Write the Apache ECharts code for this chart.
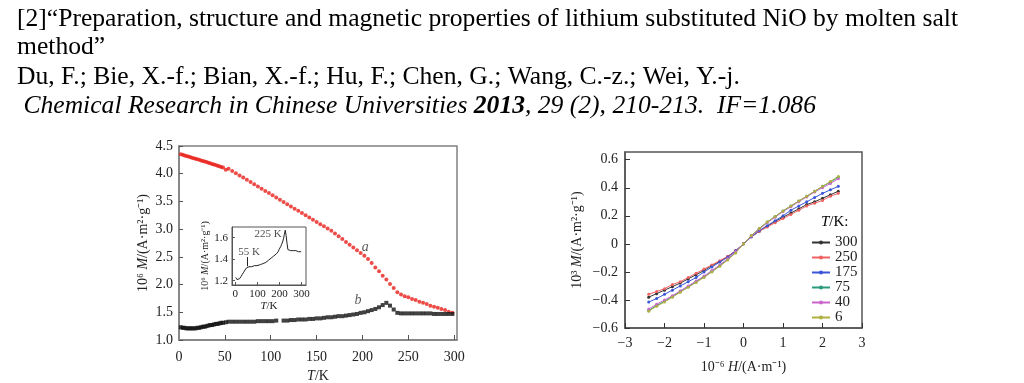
<!DOCTYPE html>
<html><head><meta charset="utf-8">
<script src="https://cdn.jsdelivr.net/npm/echarts@6/dist/echarts.min.js"></script>
<style>html,body{margin:0;padding:0;background:#fff}#c{width:1024px;height:383px}</style>
</head><body><div id="c"></div>
<script>
// ---- header text ----
const headerLines = [
  '[2]“Preparation, structure and magnetic properties of lithium substituted NiO by molten salt',
  'method”',
  'Du, F.; Bie, X.-f.; Bian, X.-f.; Hu, F.; Chen, G.; Wang, C.-z.; Wei, Y.-j.'
];
const journalPre = ' Chemical Research in Chinese Universities ';
const journalYear = '2013';
const journalPost = ', 29 (2), 210-213.  IF=1.086';

// ---- left chart: M vs T ----
const tempTicks = [0, 50, 100, 150, 200, 250, 300];
const mTicks = [1.0, 1.5, 2.0, 2.5, 3.0, 3.5, 4.0, 4.5];
const tDense = [2,4,6,8,10,12,14,16,18,20,22,24,26,28,30,32,34,36,38,40,42,44,46,48];
const aDense = [4.35,4.34,4.33,4.32,4.31,4.30,4.29,4.28,4.27,4.26,4.25,4.24,4.23,4.22,4.21,4.20,4.19,4.175,4.165,4.155,4.145,4.135,4.12,4.11];
const bDense = [1.23,1.22,1.22,1.21,1.21,1.21,1.21,1.21,1.21,1.22,1.22,1.23,1.24,1.24,1.25,1.26,1.27,1.27,1.28,1.29,1.29,1.30,1.31,1.31];
const tSparse = [51,54,58,62,66,70,74,78,82,86,90,94,98,102,106,110,114,118,122,126,130,134,138,142,146,150,154,158,162,166,170,174,178,182,186,190,194,198,202,206,210,214,218,222,226,230,234,238,242,246,250,254,258,262,266,270,274,278,282,286,290,294,298];
const aSparse = [4.07,4.09,4.05,4.01,3.97,3.93,3.89,3.85,3.81,3.77,3.73,3.69,3.65,3.61,3.57,3.53,3.49,3.45,3.41,3.37,3.33,3.29,3.25,3.21,3.17,3.13,3.09,3.05,3.01,2.97,2.92,2.87,2.82,2.77,2.72,2.67,2.62,2.57,2.52,2.46,2.39,2.31,2.24,2.16,2.09,2.01,1.94,1.86,1.82,1.79,1.77,1.74,1.72,1.69,1.67,1.65,1.62,1.60,1.58,1.56,1.54,1.51,1.49];
const bSparse = [1.32,1.33,1.33,1.33,1.33,1.33,1.33,1.33,1.33,1.34,1.34,1.34,1.34,1.34,1.35,null,1.35,1.35,1.36,1.36,1.37,1.37,1.37,1.38,1.38,1.39,1.39,1.40,1.41,1.41,1.42,1.43,1.43,1.44,1.45,1.46,1.47,1.49,1.50,1.52,1.54,1.56,1.59,1.63,1.67,1.62,1.55,1.49,1.48,1.48,1.48,1.48,1.48,1.48,1.48,1.48,1.48,1.47,1.47,1.47,1.47,1.47,1.47];

// ---- inset ----
const insetTempTicks = [0, 100, 200, 300];
const insetMTicks = [1.2, 1.4, 1.6];

// ---- right chart: M vs H ----
const hTicks = [-3, -2, -1, 0, 1, 2, 3];
const mhTicks = [-0.6, -0.4, -0.2, 0, 0.2, 0.4, 0.6];
const fieldH = [-2.4,-2.2,-2.0,-1.8,-1.6,-1.4,-1.2,-1.0,-0.8,-0.6,-0.4,-0.2,0,0.2,0.4,0.6,0.8,1.0,1.2,1.4,1.6,1.8,2.0,2.2,2.4];
const curveNames = ['300','250','175','75','40','6'];
const m300 = [-0.38,-0.355,-0.33,-0.305,-0.28,-0.25,-0.22,-0.19,-0.155,-0.125,-0.09,-0.05,0.0,0.05,0.09,0.125,0.16,0.19,0.22,0.25,0.28,0.30,0.325,0.35,0.375];
const m250 = [-0.36,-0.34,-0.32,-0.29,-0.27,-0.24,-0.21,-0.18,-0.15,-0.12,-0.09,-0.05,0.0,0.05,0.09,0.12,0.15,0.18,0.21,0.24,0.27,0.29,0.31,0.34,0.36];
const m175 = [-0.415,-0.39,-0.36,-0.33,-0.30,-0.27,-0.24,-0.20,-0.165,-0.13,-0.095,-0.05,0.0,0.05,0.095,0.13,0.165,0.20,0.24,0.27,0.30,0.33,0.36,0.385,0.41];
const m75 = [-0.475,-0.44,-0.41,-0.375,-0.34,-0.305,-0.27,-0.235,-0.195,-0.155,-0.11,-0.06,0.0,0.06,0.11,0.155,0.195,0.235,0.27,0.305,0.34,0.375,0.41,0.44,0.475];
const m40 = [-0.465,-0.43,-0.40,-0.37,-0.335,-0.30,-0.265,-0.23,-0.19,-0.15,-0.105,-0.055,0.0,0.055,0.105,0.15,0.19,0.23,0.265,0.30,0.335,0.37,0.40,0.43,0.465];
const m6 = [-0.48,-0.445,-0.415,-0.38,-0.345,-0.31,-0.275,-0.24,-0.2,-0.16,-0.115,-0.065,0.0,0.06,0.11,0.155,0.195,0.235,0.27,0.305,0.34,0.375,0.41,0.445,0.48];
const curveValues = [m300, m250, m175, m75, m40, m6];
const curveColors = ['#333333', '#f06262', '#3a55d8', '#2a9a7c', '#cc66cc', '#b0b040'];

// ---- build ----
const FF = '"Liberation Serif", "Times New Roman", serif';
const HF = 25.6;
const zip = (xs, ys) => xs.map((x, i) => [x, ys[i]]).filter(p => p[1] !== null);
const minus = s => String(s).replace('-', '−');
const richName = (size) => ({
  n: { fontFamily: FF, fontSize: size, color: '#222' },
  i: { fontFamily: FF, fontSize: size, color: '#222', fontStyle: 'italic' }
});

const chart = echarts.init(document.getElementById('c'), null, { renderer: 'canvas' });

const option = {
  animation: false,
  backgroundColor: '#fff',
  textStyle: { fontFamily: FF },
  graphic: [
    { type: 'text', left: 17, top: 6, style: { text: headerLines[0], font: HF + 'px ' + FF, fill: '#000' } },
    { type: 'text', left: 17, top: 34, style: { text: headerLines[1], font: HF + 'px ' + FF, fill: '#000' } },
    { type: 'text', left: 17, top: 64, style: { text: headerLines[2], font: HF + 'px ' + FF, fill: '#000' } },
    { type: 'text', left: 17, top: 93, style: {
        text: '{i|' + journalPre + '}{b|' + journalYear + '}{i|' + journalPost + '}',
        rich: {
          i: { fontFamily: FF, fontSize: HF, fontStyle: 'italic', color: '#000' },
          b: { fontFamily: FF, fontSize: HF, fontStyle: 'italic', fontWeight: 'bold', color: '#000' }
        } } },
    { type: 'text', left: 821, top: 215, style: {
        text: '{i|T}{n|/K:}',
        rich: {
          i: { fontFamily: FF, fontSize: 15, fontStyle: 'italic', color: '#222' },
          n: { fontFamily: FF, fontSize: 15, color: '#222' }
        } } }
  ],
  legend: {
    data: curveNames,
    orient: 'vertical',
    left: 811, top: 235,
    itemWidth: 18, itemHeight: 5, itemGap: 0,
    padding: 0,
    textStyle: { fontFamily: FF, fontSize: 15, color: '#222', lineHeight: 13.4 }
  },
  grid: [
    { left: 179, top: 146, width: 278, height: 194, show: true, borderColor: '#808080', borderWidth: 1.5,
      containLabel: false, outerBoundsMode: 'none' },
    { left: 232, top: 227, width: 74, height: 58, show: true, borderColor: '#555', borderWidth: 1,
      containLabel: false, outerBoundsMode: 'none' },
    { left: 625, top: 152, width: 237, height: 176, show: true, borderColor: '#555', borderWidth: 1.5,
      containLabel: false, outerBoundsMode: 'none' }
  ],
  xAxis: [
    { type: 'value', gridIndex: 0, min: 0, max: 303,
      axisLine: { show: true, onZero: false, lineStyle: { color: '#808080', width: 1.5 } },
      axisTick: { show: true, inside: true, length: 5, customValues: tempTicks.slice(1), lineStyle: { color: '#555' } },
      axisLabel: { customValues: tempTicks, margin: 10, fontFamily: FF, fontSize: 14, color: '#222' },
      splitLine: { show: false },
      name: '{i|T}{n|/K}', nameLocation: 'middle', nameGap: 28,
      nameTextStyle: { rich: richName(14) } },
    { type: 'value', gridIndex: 1, min: -15, max: 320,
      axisLine: { show: true, onZero: false, lineStyle: { color: '#555', width: 1 } },
      axisTick: { show: true, inside: true, length: 3, customValues: insetTempTicks, lineStyle: { color: '#555' } },
      axisLabel: { customValues: insetTempTicks, margin: 4, fontFamily: FF, fontSize: 11, color: '#222' },
      splitLine: { show: false },
      name: '{i|T}{n|/K}', nameLocation: 'middle', nameGap: 16,
      nameTextStyle: { rich: richName(11) } },
    { type: 'value', gridIndex: 2, min: -3, max: 3, interval: 1,
      axisLine: { show: true, onZero: false, lineStyle: { color: '#555', width: 1.5 } },
      axisTick: { show: true, inside: true, length: 5, lineStyle: { color: '#333' } },
      axisLabel: { margin: 8, fontFamily: FF, fontSize: 14, color: '#222', formatter: v => minus(v) },
      splitLine: { show: false },
      name: '{n|10⁻⁶ }{i|H}{n|/(A·m⁻¹)}', nameLocation: 'middle', nameGap: 32,
      nameTextStyle: { rich: richName(14) } }
  ],
  yAxis: [
    { type: 'value', gridIndex: 0, min: 1.0, max: 4.5, interval: 0.5,
      axisLine: { show: true, onZero: false, lineStyle: { color: '#808080', width: 1.5 } },
      axisTick: { show: true, inside: true, length: 4, lineStyle: { color: '#555' } },
      axisLabel: { margin: 6, fontFamily: FF, fontSize: 14, color: '#222', formatter: v => v.toFixed(1) },
      splitLine: { show: false },
      name: '{n|10⁶ }{i|M}{n|/(A·m²·g⁻¹)}', nameLocation: 'middle', nameGap: 29, nameRotate: 90,
      nameTextStyle: { rich: richName(14) } },
    { type: 'value', gridIndex: 1, min: 1.16, max: 1.70,
      axisLine: { show: true, onZero: false, lineStyle: { color: '#555', width: 1 } },
      axisTick: { show: true, inside: true, length: 3, customValues: insetMTicks, lineStyle: { color: '#555' } },
      axisLabel: { customValues: insetMTicks, margin: 4, fontFamily: FF, fontSize: 11, color: '#222', formatter: v => v.toFixed(1) },
      splitLine: { show: false },
      name: '{n|10⁶ }{i|M}{n|/(A·m²·g⁻¹)}', nameLocation: 'middle', nameGap: 22, nameRotate: 90,
      nameTextStyle: { rich: richName(10) } },
    { type: 'value', gridIndex: 2, min: -0.6, max: 0.655,
      axisLine: { show: true, onZero: false, lineStyle: { color: '#555', width: 1.5 } },
      axisTick: { show: true, inside: true, length: 5, customValues: mhTicks, lineStyle: { color: '#333' } },
      axisLabel: { customValues: mhTicks, margin: 7, fontFamily: FF, fontSize: 14, color: '#222',
        formatter: v => Math.abs(v) < 1e-9 ? '0' : minus(v.toFixed(1)) },
      splitLine: { show: false },
      name: '{n|10³ }{i|M}{n|/(A·m²·g⁻¹)}', nameLocation: 'middle', nameGap: 41, nameRotate: 90,
      nameTextStyle: { rich: richName(14) } }
  ],
  series: [
    { name: 'a-dense', type: 'scatter', xAxisIndex: 0, yAxisIndex: 0, data: zip(tDense, aDense),
      symbol: 'circle', symbolSize: 4, itemStyle: { color: '#e8201c' } },
    { name: 'a', type: 'scatter', xAxisIndex: 0, yAxisIndex: 0, data: zip(tSparse, aSparse),
      symbol: 'circle', symbolSize: 4, itemStyle: { color: '#e8201c' } },
    { name: 'b-dense', type: 'scatter', xAxisIndex: 0, yAxisIndex: 0, data: zip(tDense, bDense),
      symbol: 'rect', symbolSize: 4, itemStyle: { color: '#111' } },
    { name: 'b', type: 'scatter', xAxisIndex: 0, yAxisIndex: 0, data: zip(tSparse, bSparse),
      symbol: 'rect', symbolSize: 4, itemStyle: { color: '#111' } },
    { name: 'ab-labels', type: 'scatter', xAxisIndex: 0, yAxisIndex: 0, symbolSize: 0, silent: true,
      data: [{ value: [203, 2.67], label: { formatter: 'a' } }, { value: [195, 1.72], label: { formatter: 'b' } }],
      label: { show: true, position: 'inside', fontFamily: FF, fontSize: 14, fontStyle: 'italic', color: '#333' } },
    { name: 'inset', type: 'line', xAxisIndex: 1, yAxisIndex: 1,
      data: zip(tDense, bDense).concat(zip(tSparse, bSparse)),
      showSymbol: false, lineStyle: { color: '#222', width: 1 },
      markLine: { silent: true, symbol: 'none', label: { show: false }, lineStyle: { color: '#222', width: 1, type: 'solid' },
        data: [[{ coord: [52, 1.335] }, { coord: [52, 1.42] }]] } },
    { name: 'inset-labels', type: 'scatter', xAxisIndex: 1, yAxisIndex: 1, symbolSize: 0, silent: true,
      data: [{ value: [62, 1.465], label: { formatter: '55 K' } }, { value: [148, 1.63], label: { formatter: '225 K' } }],
      label: { show: true, position: 'inside', fontFamily: FF, fontSize: 11, color: '#222' } }
  ].concat(curveNames.map((n, k) => ({
    name: n, type: 'line', xAxisIndex: 2, yAxisIndex: 2,
    data: zip(fieldH, curveValues[k]),
    symbol: 'circle', symbolSize: 3, showSymbol: true,
    lineStyle: { color: curveColors[k], width: 1 },
    itemStyle: { color: curveColors[k] }
  })))
};
chart.setOption(option);
</script></body></html>
